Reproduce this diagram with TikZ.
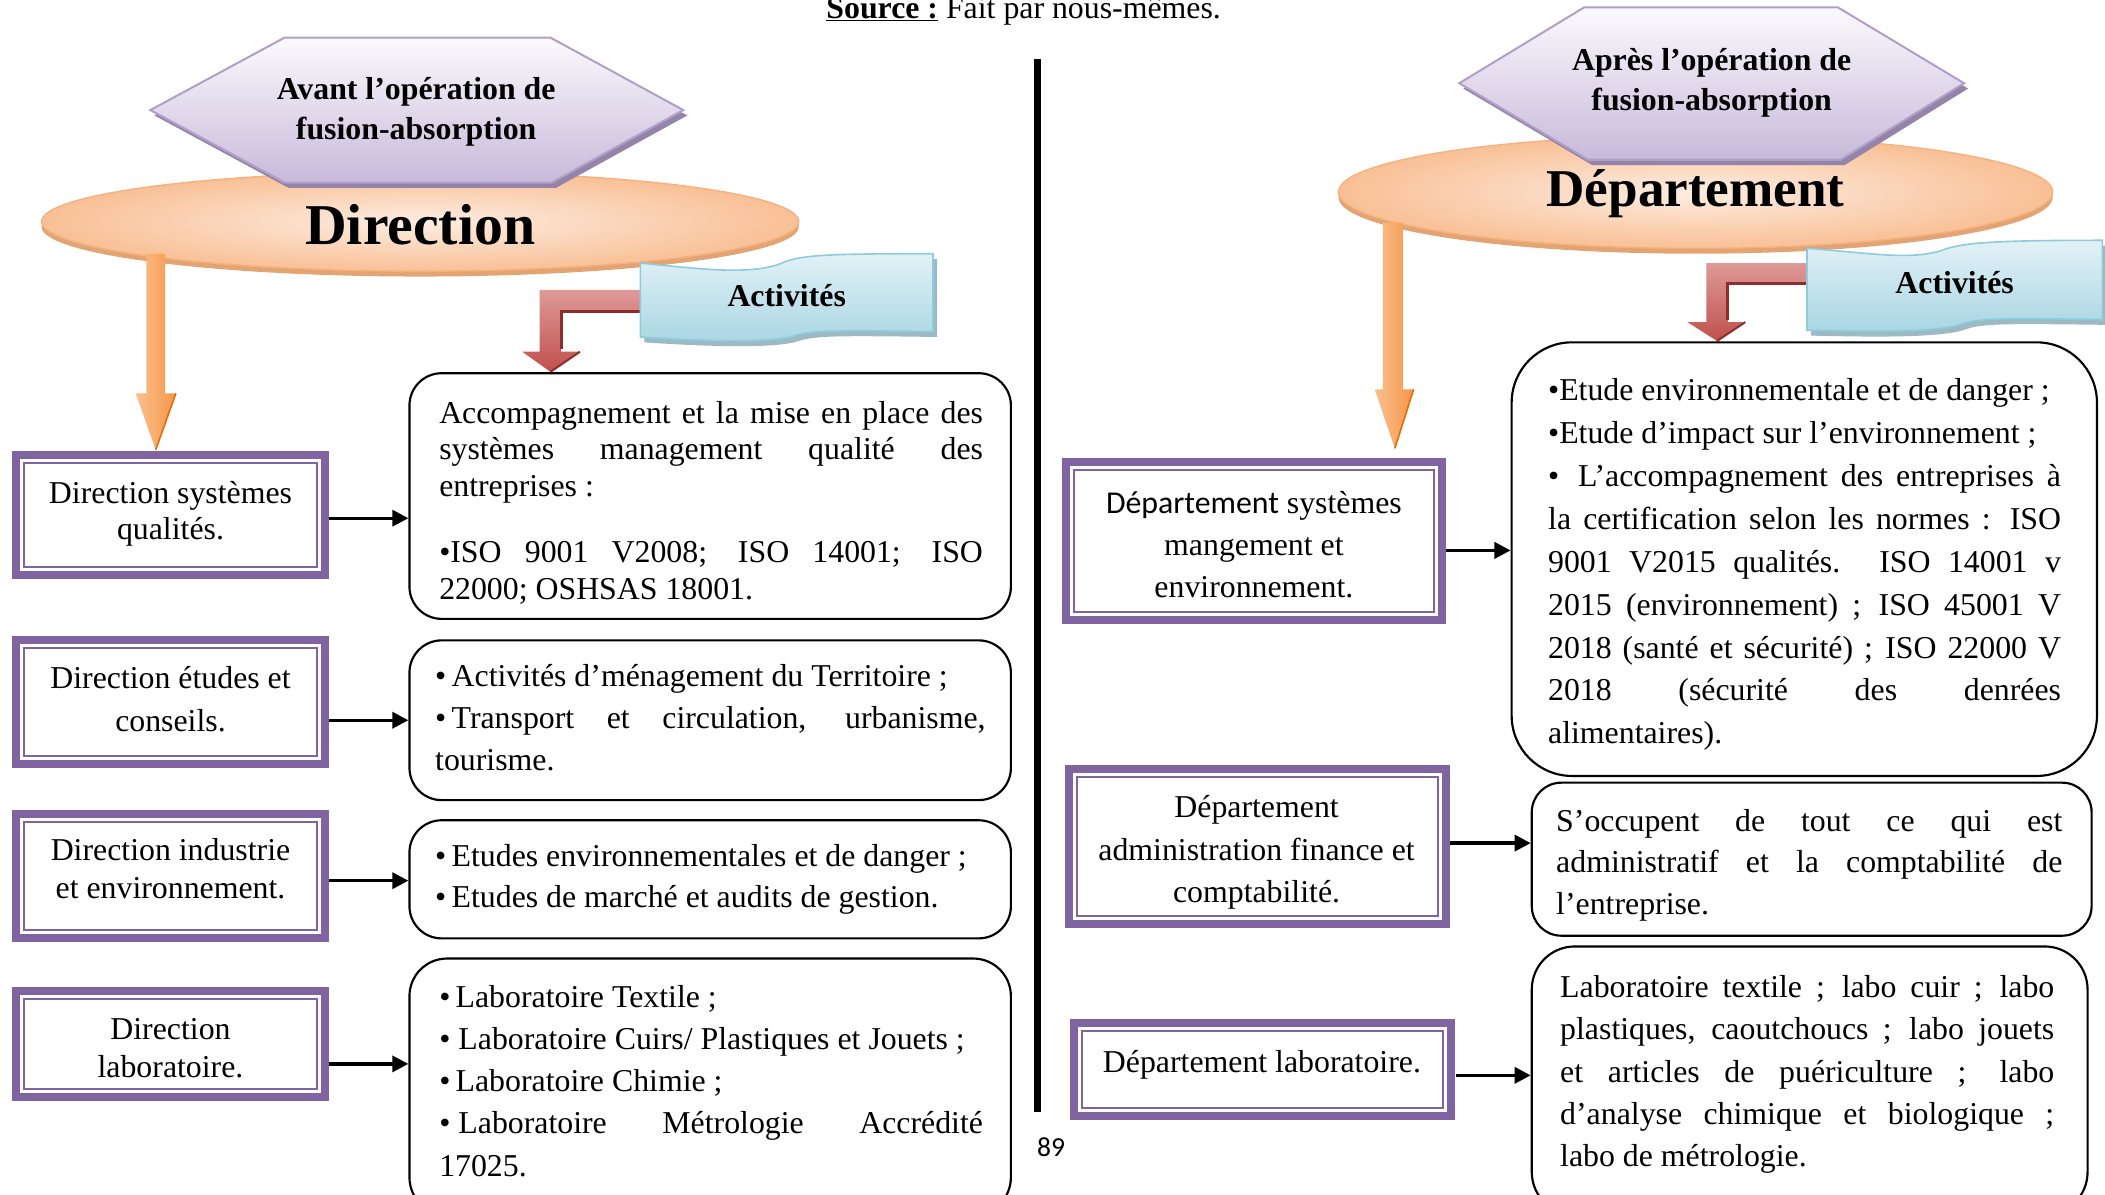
\documentclass[tikz,border=0pt]{standalone}
\usepackage{fontspec}
\setmainfont{Liberation Serif}
\newfontfamily\calibri{Carlito}
\usetikzlibrary{arrows.meta,calc}
\definecolor{purpleC}{HTML}{8064A2}
\definecolor{hexTop}{HTML}{FBFAFD}
\definecolor{hexBot}{HTML}{C8B9DA}
\definecolor{hexLine}{HTML}{B09FC6}
\definecolor{hexShadow}{HTML}{9484AA}
\definecolor{ellIn}{HTML}{FDEDE2}
\definecolor{ellOut}{HTML}{F9C096}
\definecolor{ellLine}{HTML}{F5B17E}
\definecolor{ellShadow}{HTML}{E2A473}
\definecolor{orA}{HTML}{F79646}
\definecolor{orB}{HTML}{FAC090}
\definecolor{orDark}{HTML}{E46C0A}
\definecolor{redA}{HTML}{C0504D}
\definecolor{redB}{HTML}{DE9A98}
\definecolor{redDark}{HTML}{8C2E2B}
\definecolor{blueA}{HTML}{A8D6E3}
\definecolor{blueB}{HTML}{E2F1F6}
\definecolor{blueLine}{HTML}{8FCBDC}
\definecolor{blueShadow}{HTML}{9DB9C3}
\newcommand\jsetup{\parindent=0pt\hyphenpenalty=10000\exhyphenpenalty=10000\tolerance=10000\emergencystretch=0pt\relax}
\begin{document}
\begin{tikzpicture}[x=1pt,y=-1pt,
  body/.style={inner sep=0pt, font=\fontsize{23.7}{31.5}\selectfont},
  para/.style={body, anchor=north west, align=justify},
  ctext/.style={body, anchor=north, align=center},
  pbox/.style={inner sep=0pt, fill=white, path picture={
      \draw[purpleC, line width=6pt] ([shift={(3pt,-3pt)}]path picture bounding box.north west) rectangle ([shift={(-3pt,3pt)}]path picture bounding box.south east);
      \draw[purpleC, line width=1.5pt] ([shift={(9pt,-9pt)}]path picture bounding box.north west) rectangle ([shift={(-9pt,9pt)}]path picture bounding box.south east);
  }},
  rbox/.style={draw=black, line width=1.6pt, rounded corners=#1, inner sep=0pt},
  rbox/.default=24pt,
  conn/.style={line width=2.5pt, -{Triangle[length=12pt,width=12pt]}},
  hexshape/.style={top color=hexTop, bottom color=hexBot, draw=hexLine, line width=1.5pt},
  ellshape/.style={inner color=ellIn, outer color=ellOut, draw=ellLine, line width=1pt},
  orarrow/.style={left color=orB, right color=orA},
  redarrow/.style={top color=redB, bottom color=redA},
  banner/.style={top color=blueB, bottom color=blueA, draw=blueLine, line width=1.2pt},
  bigtitle/.style={inner sep=0pt, anchor=base, font=\bfseries}
]
\useasboundingbox (0,0) rectangle (1568,890);

% ---------- source and divider ----------
\node[inner sep=0pt, anchor=base, font=\fontsize{23.7}{28}\selectfont] (src) at (762.5,13.5) {\underline{\textbf{Source :}} Fait par nous-mêmes.};
\coordinate (divtop) at (773,44);
\coordinate (divbot) at (773,828);
\draw[line width=5pt] (divtop) -- (divbot);
\node[inner sep=0pt, anchor=base, font=\calibri\fontsize{20.5}{24}\selectfont] (pg) at (783,861.5) {89};

% ================= LEFT =================
% ellipse
\fill[ellShadow] (313,169) ellipse [x radius=282, y radius=37];
\shade[ellshape] (313,165) ellipse [x radius=282, y radius=37];
\node[bigtitle, font=\fontsize{43}{43}\selectfont\bfseries] (dirL) at (313,182.5) {Direction};
% hexagon
\fill[hexShadow] (115,86) -- (215,32) -- (413,32) -- (512,86) -- (414,140) -- (215,140) -- cycle;
\shade[hexshape] (112,82) -- (212,28) -- (410,28) -- (509,82) -- (411,136) -- (212,136) -- cycle;
\node[ctext, font=\fontsize{23.7}{30}\selectfont\bfseries] (hexL) at (310,57.5) {Avant l’opération de\\fusion-absorption};
% orange arrow
\coordinate (oaL) at (116,189);
\shade[orarrow] (oaL) ++(-7,0) -- ++(14,0) -- ++(0,104) -- ++(8,0) -- (116,335) -- (101,293) -- (109,293) -- cycle;
\draw[orDark, line width=1.2pt] (131,293) -- (116,335);
% red elbow arrow
\coordinate (raL) at (477,216);
\shade[redarrow] (raL) -- (402,216) -- (402,262) -- (389,262) -- (410,277) -- (432,262) -- (418,262) -- (418,232) -- (477,232) -- cycle;
\draw[redDark, line width=2pt] (418,260) -- (418,232) -- (477,232);
\draw[redDark, line width=1.5pt] (432,262) -- (410,277);
% banner
\fill[blueShadow] (480,200) .. controls (523,204) and (558,209) .. (583,201) .. controls (598,194) and (613,193) .. (698,193) -- (698,251) .. controls (623,250) and (608,250) .. (595,254) .. controls (578,260) and (523,258) .. (480,255) -- cycle;
\shade[banner] (477,196) .. controls (520,200) and (555,205) .. (580,197) .. controls (595,190) and (610,189) .. (695,189) -- (695,247) .. controls (620,246) and (605,246) .. (592,250) .. controls (575,256) and (520,254) .. (477,251) -- cycle;
\node[bigtitle, font=\fontsize{23.7}{28}\selectfont\bfseries] (actL) at (586,228) {Activités};

% purple boxes
\node[pbox, minimum width=236pt, minimum height=95pt] (b1) at (127,383.5) {};
\node[pbox, minimum width=236pt, minimum height=98pt] (b2) at (127,523) {};
\node[pbox, minimum width=236pt, minimum height=99pt] (b3) at (127,652.5) {};
\node[pbox, minimum width=236pt, minimum height=85pt] (b4) at (127,777.5) {};
\node[ctext, font=\fontsize{23.7}{27}\selectfont] (bt1) at (127,358.5) {Direction systèmes\\qualités.};
\node[ctext, font=\fontsize{23.7}{32}\selectfont] (bt2) at (127,496.5) {Direction études et\\conseils.};
\node[ctext, font=\fontsize{23.7}{28}\selectfont] (bt3) at (127,624.5) {Direction industrie\\et environnement.};
\node[ctext, font=\fontsize{23.7}{28}\selectfont] (bt4) at (127,758.5) {Direction\\laboratoire.};

% rounded boxes
\node[rbox, minimum width=448pt, minimum height=183pt] (r1) at (529,369.5) {};
\node[rbox, minimum width=448pt, minimum height=119pt] (r2) at (529,536.5) {};
\node[rbox, minimum width=448pt, minimum height=88pt] (r3) at (529,655) {};
\node[rbox=28pt, minimum width=448pt, minimum height=191pt] (r4) at (529,809.5) {};

\node[para, text width=405pt, font=\fontsize{23.7}{27.5}\selectfont] (t1) at (327,298.5) {\jsetup Accompagnement et la mise en place des\linebreak systèmes management qualité des\linebreak entreprises :\par\vspace{21.5pt}•ISO 9001 V2008; ISO 14001; ISO\linebreak 22000; OSHSAS 18001.};
\node[para, text width=410pt, font=\fontsize{23.7}{31.5}\selectfont] (t2) at (324,494.5) {\jsetup •\,Activités d’ménagement du Territoire ;\par •\,Transport et circulation, urbanisme,\linebreak tourisme.};
\node[para, text width=410pt, font=\fontsize{23.7}{31}\selectfont] (t3) at (324,628.5) {\jsetup •\,Etudes environnementales et de danger ;\par •\,Etudes de marché et audits de gestion.};
\node[para, text width=405pt, font=\fontsize{23.7}{31.5}\selectfont] (t4) at (327,733.5) {\jsetup •\,Laboratoire Textile ;\par •\hspace{6pt}Laboratoire Cuirs/ Plastiques et Jouets ;\par •\,Laboratoire Chimie ;\par •\hspace{6pt}Laboratoire Métrologie Accrédité\linebreak 17025.};

% connectors
\coordinate (ya1) at (0,386);
\coordinate (ya2) at (0,536.5);
\coordinate (ya3) at (0,656);
\coordinate (ya4) at (0,792.5);
\draw[conn] (b1.east |- ya1) -- (r1.west |- ya1);
\draw[conn] (b2.east |- ya2) -- (r2.west |- ya2);
\draw[conn] (b3.east |- ya3) -- (r3.west |- ya3);
\draw[conn] (b4.east |- ya4) -- (r4.west |- ya4);

% ================= RIGHT =================
\fill[ellShadow] (1263,147) ellipse [x radius=266, y radius=42];
\shade[ellshape] (1263,143) ellipse [x radius=266, y radius=42];
\node[bigtitle, font=\fontsize{39.6}{40}\selectfont\bfseries] (depR) at (1263,154) {Département};
\fill[hexShadow] (1090,66) -- (1183,9.5) -- (1372,9.5) -- (1466,66) -- (1374,123) -- (1186,123) -- cycle;
\shade[hexshape] (1087,62) -- (1180,5.5) -- (1369,5.5) -- (1463,62) -- (1371,119) -- (1183,119) -- cycle;
\node[ctext, font=\fontsize{23.7}{30}\selectfont\bfseries] (hexR) at (1275,35.5) {Après l’opération de\\fusion-absorption};
% orange arrow
\coordinate (oaR) at (1037,166);
\shade[orarrow] (oaR) ++(-7,0) -- ++(15,0) -- (1045,290) -- (1053,290) -- (1039,334) -- (1024,290) -- (1030,290) -- cycle;
\draw[orDark, line width=1.2pt] (1053,290) -- (1039,334);
% red elbow arrow
\coordinate (raR) at (1346,196);
\shade[redarrow] (raR) -- (1271,196) -- (1271,240) -- (1257,240) -- (1279,254) -- (1300,240) -- (1287,240) -- (1287,211) -- (1346,211) -- cycle;
\draw[redDark, line width=2pt] (1287,238) -- (1287,211) -- (1346,211);
\draw[redDark, line width=1.5pt] (1300,240) -- (1279,254);
% banner
\fill[blueShadow] (1349,189) .. controls (1393,192) and (1423,198) .. (1448,191) .. controls (1463,185) and (1483,183) .. (1570,183) -- (1570,242) .. controls (1493,241) and (1478,241) .. (1465,245) .. controls (1448,252) and (1393,251) .. (1349,250) -- cycle;
\shade[banner] (1346,185) .. controls (1390,188) and (1420,194) .. (1445,187) .. controls (1460,181) and (1480,179) .. (1566,179) -- (1566,238) .. controls (1490,237) and (1475,237) .. (1462,241) .. controls (1445,248) and (1390,247) .. (1346,246) -- cycle;
\node[bigtitle, font=\fontsize{23.7}{28}\selectfont\bfseries] (actR) at (1456,218.5) {Activités};

% purple boxes
\node[pbox, minimum width=286pt, minimum height=124pt] (rb1) at (934,403) {};
\node[pbox, minimum width=287pt, minimum height=121pt] (rb2) at (936.5,630.5) {};
\node[pbox, minimum width=287pt, minimum height=75pt] (rb3) at (940.5,796.5) {};
\node[ctext, font=\fontsize{23.7}{31.5}\selectfont] (rbt1) at (934,365.5) {{\calibri Département} systèmes\\mangement et\\environnement.};
\node[ctext, font=\fontsize{23.7}{31.5}\selectfont] (rbt2) at (936,592.5) {Département\\administration finance et\\comptabilité.};
\node[ctext, font=\fontsize{23.7}{31.5}\selectfont] (rbt3) at (940,782.5) {Département laboratoire.};

% rounded boxes
\node[rbox=45pt, minimum width=436pt, minimum height=323pt] (rr1) at (1344,416.5) {};
\node[rbox=22pt, minimum width=417pt, minimum height=114pt] (rr2) at (1349.5,640) {};
\node[rbox=32pt, minimum width=414pt, minimum height=200pt] (rr3) at (1348,805) {};

\node[para, text width=382pt, font=\fontsize{23.7}{32}\selectfont] (rt1) at (1153,281.5) {\jsetup •Etude environnementale et de danger ;\par •Etude d’impact sur l’environnement ;\par •\hspace{14pt}L’accompagnement des entreprises à\linebreak la certification selon les normes : ISO\linebreak 9001 V2015 qualités. ISO 14001 v\linebreak 2015 (environnement) ; ISO 45001 V\linebreak 2018 (santé et sécurité) ; ISO 22000 V\linebreak 2018 (sécurité des denrées\linebreak alimentaires).};
\node[para, text width=377pt, font=\fontsize{23.7}{31}\selectfont] (rt2) at (1159,602.5) {\jsetup S’occupent de tout ce qui est\linebreak administratif et la comptabilité de\linebreak l’entreprise.};
\node[para, text width=368pt, font=\fontsize{23.7}{31.5}\selectfont] (rt3) at (1162,726.5) {\jsetup Laboratoire textile ; labo cuir ; labo\linebreak plastiques, caoutchoucs ; labo jouets\linebreak et articles de puériculture ; labo\linebreak d’analyse chimique et biologique ;\linebreak labo de métrologie.};

% connectors
\coordinate (yb1) at (0,410);
\coordinate (yb2) at (0,628);
\coordinate (yb3) at (0,801);
\draw[conn] (rb1.east |- yb1) -- (rr1.west |- yb1);
\draw[conn] (rb2.east |- yb2) -- (rr2.west |- yb2);
\draw[conn] (rb3.east |- yb3) -- (rr3.west |- yb3);
\end{tikzpicture}
\end{document}
